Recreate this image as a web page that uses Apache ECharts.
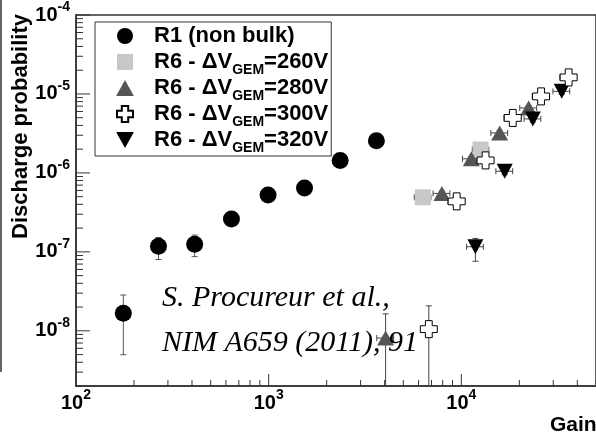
<!DOCTYPE html>
<html><head><meta charset="utf-8">
<script src="https://cdn.jsdelivr.net/npm/echarts@6/dist/echarts.min.js"></script>
<style>html,body{margin:0;padding:0;background:#fff}#c{width:596px;height:435px}</style>
</head><body><div id="c"></div>
<script>
// ---- data ----
const seriesNames = ['R1 (non bulk)', 'R6 - ΔVGEM=260V', 'R6 - ΔVGEM=280V', 'R6 - ΔVGEM=300V', 'R6 - ΔVGEM=320V'];

const r1Gain    = [176, 268, 413, 641, 993, 1535, 2350, 3624];
const r1Prob    = [1.67e-8, 1.18e-7, 1.25e-7, 2.61e-7, 5.25e-7, 6.43e-7, 1.44e-6, 2.55e-6];
const r1ProbLo  = [4.98e-9, 8.0e-8, 8.7e-8, 2.25e-7, 4.6e-7, 5.7e-7, 1.3e-6, 2.35e-6];
const r1ProbHi  = [2.84e-8, 1.52e-7, 1.63e-7, 3.0e-7, 6.0e-7, 7.3e-7, 1.6e-6, 2.75e-6];

const r260Gain   = [6310, 12590];
const r260Prob   = [4.91e-7, 1.98e-6];
const r260ProbLo = [4.5e-7, 1.85e-6];
const r260ProbHi = [5.3e-7, 2.1e-6];
const r260GainLo = [5700, 11400];
const r260GainHi = [6950, 13900];

const r280Gain   = [4045, 7925, 11270, 15810, 22350];
const r280Prob   = [8.1e-9, 5.5e-7, 1.51e-6, 3.21e-6, 6.65e-6];
const r280ProbLo = [1e-10, 5.1e-7, 1.4e-6, 3.0e-6, 6.2e-6];
const r280ProbHi = [1.64e-8, 5.9e-7, 1.62e-6, 3.45e-6, 7.1e-6];
const r280GainLo = [3640, 7130, 10140, 14230, 20100];
const r280GainHi = [4450, 8720, 12400, 17390, 24600];

const r300Gain   = [6780, 9460, 13360, 18490, 25930, 36060];
const r300Prob   = [1.05e-8, 4.36e-7, 1.44e-6, 4.97e-6, 9.31e-6, 1.62e-5];
const r300ProbLo = [1e-10, 4.0e-7, 1.33e-6, 4.6e-6, 8.7e-6, 1.52e-5];
const r300ProbHi = [2.07e-8, 4.75e-7, 1.56e-6, 5.35e-6, 1.0e-5, 1.73e-5];
const r300GainLo = [6500, 8520, 12030, 16640, 23340, 32450];
const r300GainHi = [7060, 10400, 14700, 20340, 28520, 39670];

const r320Gain   = [11830, 16790, 23500, 33200];
const r320Prob   = [1.16e-7, 1.05e-6, 4.83e-6, 1.08e-5];
const r320ProbLo = [7.6e-8, 9.5e-7, 4.4e-6, 9.9e-6];
const r320ProbHi = [1.48e-7, 1.15e-6, 5.3e-6, 1.18e-5];
const r320GainLo = [10650, 15110, 21150, 29880];
const r320GainHi = [13010, 18470, 25850, 36520];

const xTickExps = [2, 3, 4];
const yTickExps = [-8, -7, -6, -5, -4];
const X_MIN = 100, X_MAX = 5e4, Y_MIN = 2e-9, Y_MAX = 1e-4;

const annotationLines = ['S. Procureur et al.,', 'NIM A659 (2011), 91'];
const xTitle = 'Gain';
const yTitle = 'Discharge probability';

// ---- helpers ----
function pts(g, p) { return g.map((v, i) => [v, p[i]]); }
function errPts(g, p, lo, hi, glo, ghi) {
  return g.map((v, i) => [v, p[i], lo[i], hi[i], glo ? glo[i] : null, ghi ? ghi[i] : null]);
}
function makeErrRender(color) {
  return function (params, api) {
    const cs = params.coordSys;
    const bottom = cs.y + cs.height;
    const x = api.value(0), y = api.value(1);
    const c = api.coord([x, y]);
    const style = { stroke: color, lineWidth: 1 };
    const ch = [];
    const ylo = api.value(2), yhi = api.value(3);
    if (!isNaN(ylo) && !isNaN(yhi)) {
      const pl = api.coord([x, ylo]), ph = api.coord([x, yhi]);
      const yb = Math.min(pl[1], bottom);
      ch.push({ type: 'line', shape: { x1: c[0], y1: yb, x2: c[0], y2: ph[1] }, style });
      ch.push({ type: 'line', shape: { x1: c[0] - 3, y1: ph[1], x2: c[0] + 3, y2: ph[1] }, style });
      if (pl[1] < bottom) ch.push({ type: 'line', shape: { x1: c[0] - 3, y1: pl[1], x2: c[0] + 3, y2: pl[1] }, style });
    }
    const xlo = api.value(4), xhi = api.value(5);
    if (!isNaN(xlo) && !isNaN(xhi)) {
      const ql = api.coord([xlo, y]), qh = api.coord([xhi, y]);
      ch.push({ type: 'line', shape: { x1: ql[0], y1: c[1], x2: qh[0], y2: c[1] }, style });
      ch.push({ type: 'line', shape: { x1: ql[0], y1: c[1] - 3, x2: ql[0], y2: c[1] + 3 }, style });
      ch.push({ type: 'line', shape: { x1: qh[0], y1: c[1] - 3, x2: qh[0], y2: c[1] + 3 }, style });
    }
    return { type: 'group', children: ch };
  };
}

// tick marks (major at powers of ten, minor at 2..9)
const tickData = [];
for (let e = yTickExps[0] - 1; e <= yTickExps[yTickExps.length - 1]; e++) {
  for (let k = 1; k <= 9; k++) {
    const v = k * Math.pow(10, e);
    if (v >= Y_MIN * 0.999 && v <= Y_MAX * 1.001) tickData.push([X_MIN, v, k === 1 ? 0 : 1]);
  }
}
for (let e = xTickExps[0]; e <= xTickExps[xTickExps.length - 1]; e++) {
  for (let k = 1; k <= 9; k++) {
    const v = k * Math.pow(10, e);
    if (v > X_MIN && v <= X_MAX) tickData.push([v, Y_MIN, k === 1 ? 2 : 3]);
  }
}
function renderTick(params, api) {
  const t = api.value(2);
  const p = api.coord([api.value(0), api.value(1)]);
  let s;
  if (t === 0) s = { x1: p[0], y1: p[1], x2: p[0] + 14, y2: p[1] };
  else if (t === 1) s = { x1: p[0], y1: p[1], x2: p[0] + 7, y2: p[1] };
  else if (t === 2) s = { x1: p[0], y1: p[1], x2: p[0], y2: p[1] - 12 };
  else s = { x1: p[0], y1: p[1], x2: p[0], y2: p[1] - 6 };
  return { type: 'line', shape: s, style: { stroke: '#333', lineWidth: 1 } };
}

function powLabel(exps) {
  return function (v) {
    const l = Math.log10(v);
    const e = Math.round(l);
    if (Math.abs(l - e) > 1e-6 || exps.indexOf(e) < 0) return '';
    return '{b|10}{s|' + e + '}';
  };
}
const font = 'Liberation Sans';
const labelRich = {
  b: { fontSize: 20, fontWeight: 'bold', fontFamily: font, color: '#000', lineHeight: 20, verticalAlign: 'bottom' },
  s: { fontSize: 14, fontWeight: 'bold', fontFamily: font, color: '#000', lineHeight: 14, padding: [0, 0, 11, 0], verticalAlign: 'bottom' }
};

const crossPath = 'path://M3,0H7V3H10V7H7V10H3V7H0V3H3Z';
const invTriPath = 'path://M0,0H10L5,9Z';
const triPath = 'path://M5,0L10,9H0Z';
const sqPath = 'path://M0,0H10V10H0Z';

const chart = echarts.init(document.getElementById('c'), null, { renderer: 'canvas' });

chart.setOption({
  animation: false,
  backgroundColor: '#fff',
  grid: { left: 76, top: 14, right: -2, bottom: 49, show: true, borderColor: '#333', borderWidth: 1.5, backgroundColor: 'transparent' },
  xAxis: {
    type: 'log', logBase: 10, min: X_MIN, max: X_MAX,
    axisLine: { show: true, lineStyle: { color: '#333', width: 1.5 } },
    axisTick: { show: false }, splitLine: { show: false }, minorTick: { show: false },
    axisLabel: { formatter: powLabel(xTickExps), rich: labelRich, margin: 7, showMaxLabel: false, hideOverlap: false }
  },
  yAxis: {
    type: 'log', logBase: 10, min: Y_MIN, max: Y_MAX,
    axisLine: { show: true, lineStyle: { color: '#333', width: 1.5 } },
    axisTick: { show: false }, splitLine: { show: false }, minorTick: { show: false },
    axisLabel: { formatter: powLabel(yTickExps), rich: labelRich, margin: 6, showMinLabel: false, hideOverlap: false }
  },
  legend: {
    orient: 'vertical', left: 95, top: 22,
    padding: [3, 3, 1, 21], itemGap: 0,
    itemWidth: 18, itemHeight: 16,
    borderColor: '#333', borderWidth: 1, backgroundColor: '#fff',
    selectedMode: false,
    data: [
      { name: seriesNames[0], icon: 'circle' },
      { name: seriesNames[1], icon: sqPath },
      { name: seriesNames[2], icon: triPath },
      { name: seriesNames[3], icon: crossPath },
      { name: seriesNames[4], icon: invTriPath }
    ],
    formatter: function (name) {
      const i = name.indexOf('GEM');
      if (i < 0) return '{f|' + name + '}{s| }';
      return '{f|' + name.slice(0, i) + '}{s|GEM}{b|' + name.slice(i + 3) + '}';
    },
    textStyle: {
      rich: {
        f: { fontSize: 22, fontWeight: 'bold', fontFamily: font, color: '#000', lineHeight: 22, verticalAlign: 'top', padding: [0, 0, 0, 15] },
        b: { fontSize: 22, fontWeight: 'bold', fontFamily: font, color: '#000', lineHeight: 22, verticalAlign: 'top' },
        s: { fontSize: 14, fontWeight: 'bold', fontFamily: font, color: '#000', lineHeight: 14, padding: [12, 0, 0, 0], verticalAlign: 'top' }
      }
    }
  },
  graphic: [
    { type: 'line', shape: { x1: 1, y1: 0, x2: 1, y2: 372 }, style: { stroke: '#333', lineWidth: 1.5 }, z: 10 },
    { type: 'text', x: 21, y: 14, rotation: Math.PI / 2, style: { text: yTitle, font: 'bold 22px "Liberation Sans"', fill: '#000', textAlign: 'right', textVerticalAlign: 'middle' }, z: 10 },
    { type: 'text', x: 550, y: 425, style: { text: xTitle, font: 'bold 21px "Liberation Sans"', fill: '#000', textAlign: 'left', textVerticalAlign: 'middle' }, z: 10 },
    { type: 'text', x: 162, y: 298, style: { text: annotationLines[0], font: 'italic 30px "Liberation Serif"', fill: '#000', textAlign: 'left', textVerticalAlign: 'middle' }, z: 10 },
    { type: 'text', x: 162, y: 343, style: { text: annotationLines[1], font: 'italic 30px "Liberation Serif"', fill: '#000', textAlign: 'left', textVerticalAlign: 'middle' }, z: 10 }
  ],
  series: [
    { type: 'custom', name: 'ticks', renderItem: renderTick, data: tickData, z: 5, silent: true, clip: false },
    { type: 'custom', name: 'e1', renderItem: makeErrRender('#555'), data: errPts(r1Gain, r1Prob, r1ProbLo, r1ProbHi), z: 2, silent: true, clip: false },
    { type: 'custom', name: 'e2', renderItem: makeErrRender('#444'), data: errPts(r260Gain, r260Prob, r260ProbLo, r260ProbHi, r260GainLo, r260GainHi), z: 2, silent: true, clip: false },
    { type: 'custom', name: 'e3', renderItem: makeErrRender('#444'), data: errPts(r280Gain, r280Prob, r280ProbLo, r280ProbHi, r280GainLo, r280GainHi), z: 2, silent: true, clip: false },
    { type: 'custom', name: 'e4', renderItem: makeErrRender('#444'), data: errPts(r300Gain, r300Prob, r300ProbLo, r300ProbHi, r300GainLo, r300GainHi), z: 2, silent: true, clip: false },
    { type: 'custom', name: 'e5', renderItem: makeErrRender('#444'), data: errPts(r320Gain, r320Prob, r320ProbLo, r320ProbHi, r320GainLo, r320GainHi), z: 2, silent: true, clip: false },
    { type: 'scatter', name: seriesNames[0], data: pts(r1Gain, r1Prob), symbol: 'circle', symbolSize: 17, itemStyle: { color: '#000', opacity: 1 }, z: 3 },
    { type: 'scatter', name: seriesNames[1], data: pts(r260Gain, r260Prob), symbol: 'rect', symbolSize: 16, itemStyle: { color: '#c8c8c8', opacity: 1 }, z: 3 },
    { type: 'scatter', name: seriesNames[2], data: pts(r280Gain, r280Prob), symbol: 'triangle', symbolSize: [17, 15], itemStyle: { color: '#555', opacity: 1 }, z: 3 },
    { type: 'scatter', name: seriesNames[3], data: pts(r300Gain, r300Prob), symbol: crossPath, symbolSize: 17, itemStyle: { color: '#fff', borderColor: '#000', borderWidth: 1, opacity: 1 }, z: 4 },
    { type: 'scatter', name: seriesNames[4], data: pts(r320Gain, r320Prob), symbol: 'triangle', symbolRotate: 180, symbolSize: [16, 15], itemStyle: { color: '#000', opacity: 1 }, z: 3 }
  ]
});
</script>
</body></html>
